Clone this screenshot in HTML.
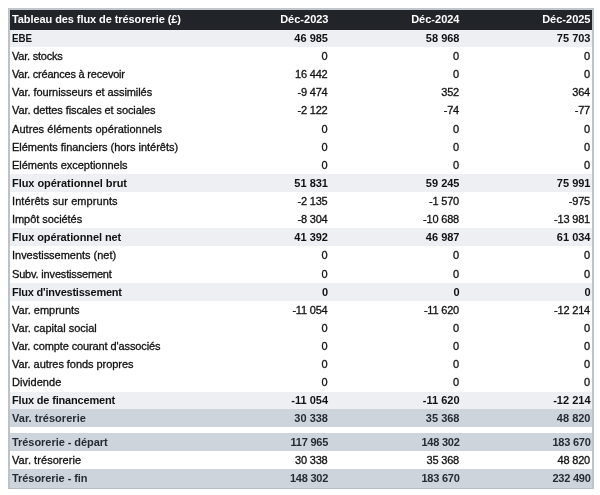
<!DOCTYPE html>
<html><head><meta charset="utf-8"><title>Tableau des flux de trésorerie</title>
<style>
html,body{margin:0;padding:0;background:#fff;}
body{width:600px;height:495px;overflow:hidden;position:relative;font-family:"Liberation Sans","DejaVu Sans",sans-serif;font-size:11px;color:#111;}
#t{position:absolute;left:8px;top:8px;width:582px;height:478px;border:2px solid #bcc2cb;border-top-color:#c1c5cc;border-bottom:1px solid #b6bdc4;box-sizing:content-box;background:#fff;}
.r{position:absolute;left:0;right:0;height:18px;line-height:18px;white-space:nowrap;}
.r span{position:absolute;top:0;letter-spacing:-0.2px;-webkit-text-stroke:0.3px currentColor;}
.r .l{left:2px;letter-spacing:0;}
.r .c1{right:264.5px;}
.r .c2{right:133px;}
.r .c3{right:2px;}
.h{top:0;height:20px;line-height:19px;background:#212429;color:#fff;font-weight:bold;}
.h .c1{right:263.5px}.h .c2{right:132.5px}.h .c3{right:1.5px}
.b{background:#edeff3;font-weight:bold;}
.d{background:#ced4dc;font-weight:bold;color:#262b36;}
.b span,.d span,.h span{letter-spacing:0;-webkit-text-stroke:0}
.b .c1,.d .c1{right:264px}.b .c2,.d .c2{right:132.5px}.b .c3,.d .c3{right:1.5px}
.w span{letter-spacing:-0.25px}.w .l{letter-spacing:0}
</style></head><body>
<div id="t">
<div class="r h"><span class="l" style="letter-spacing:-0.079px">Tableau des flux de trésorerie (£)</span><span class="c1">Déc-2023</span><span class="c2">Déc-2024</span><span class="c3">Déc-2025</span></div>
<div class="r b" style="top:20px;height:17px;line-height:16px"><span class="l" style="transform:scaleX(0.885);transform-origin:0 0">EBE</span><span class="c1">46 985</span><span class="c2">58 968</span><span class="c3">75 703</span></div>
<div class="r" style="top:37px;height:18px;line-height:18px"><span class="l" style="letter-spacing:-0.228px">Var. stocks</span><span class="c1">0</span><span class="c2">0</span><span class="c3">0</span></div>
<div class="r" style="top:55px;height:18px;line-height:18px"><span class="l" style="letter-spacing:-0.208px">Var. créances à recevoir</span><span class="c1">16 442</span><span class="c2">0</span><span class="c3">0</span></div>
<div class="r" style="top:73px;height:18px;line-height:18px"><span class="l" style="letter-spacing:-0.072px">Var. fournisseurs et assimilés</span><span class="c1">-9 474</span><span class="c2">352</span><span class="c3">364</span></div>
<div class="r" style="top:91px;height:19px;line-height:18px"><span class="l" style="letter-spacing:-0.096px">Var. dettes fiscales et sociales</span><span class="c1">-2 122</span><span class="c2">-74</span><span class="c3">-77</span></div>
<div class="r" style="top:110px;height:18px;line-height:18px"><span class="l" style="letter-spacing:0.054px">Autres éléments opérationnels</span><span class="c1">0</span><span class="c2">0</span><span class="c3">0</span></div>
<div class="r" style="top:128px;height:18px;line-height:18px"><span class="l" style="letter-spacing:-0.025px">Eléments financiers (hors intérêts)</span><span class="c1">0</span><span class="c2">0</span><span class="c3">0</span></div>
<div class="r" style="top:146px;height:18px;line-height:18px"><span class="l" style="letter-spacing:-0.027px">Eléments exceptionnels</span><span class="c1">0</span><span class="c2">0</span><span class="c3">0</span></div>
<div class="r b" style="top:164px;height:18px;line-height:18px"><span class="l" style="letter-spacing:-0.053px">Flux opérationnel brut</span><span class="c1">51 831</span><span class="c2">59 245</span><span class="c3">75 991</span></div>
<div class="r" style="top:182px;height:18px;line-height:18px"><span class="l" style="letter-spacing:0.082px">Intérêts sur emprunts</span><span class="c1">-2 135</span><span class="c2">-1 570</span><span class="c3">-975</span></div>
<div class="r" style="top:200px;height:18px;line-height:18px"><span class="l" style="letter-spacing:-0.061px">Impôt sociétés</span><span class="c1">-8 304</span><span class="c2">-10 688</span><span class="c3">-13 981</span></div>
<div class="r b" style="top:218px;height:18px;line-height:18px"><span class="l" style="letter-spacing:-0.103px">Flux opérationnel net</span><span class="c1">41 392</span><span class="c2">46 987</span><span class="c3">61 034</span></div>
<div class="r" style="top:236px;height:19px;line-height:18px"><span class="l" style="letter-spacing:-0.023px">Investissements (net)</span><span class="c1">0</span><span class="c2">0</span><span class="c3">0</span></div>
<div class="r" style="top:255px;height:18px;line-height:18px"><span class="l" style="letter-spacing:-0.172px">Subv. investissement</span><span class="c1">0</span><span class="c2">0</span><span class="c3">0</span></div>
<div class="r b" style="top:273px;height:18px;line-height:18px"><span class="l" style="letter-spacing:-0.225px">Flux d'investissement</span><span class="c1">0</span><span class="c2">0</span><span class="c3">0</span></div>
<div class="r" style="top:291px;height:18px;line-height:18px"><span class="l" style="letter-spacing:-0.006px">Var. emprunts</span><span class="c1">-11 054</span><span class="c2">-11 620</span><span class="c3">-12 214</span></div>
<div class="r" style="top:309px;height:18px;line-height:18px"><span class="l" style="letter-spacing:-0.002px">Var. capital social</span><span class="c1">0</span><span class="c2">0</span><span class="c3">0</span></div>
<div class="r" style="top:327px;height:18px;line-height:18px"><span class="l" style="letter-spacing:-0.109px">Var. compte courant d'associés</span><span class="c1">0</span><span class="c2">0</span><span class="c3">0</span></div>
<div class="r" style="top:345px;height:18px;line-height:18px"><span class="l" style="letter-spacing:-0.049px">Var. autres fonds propres</span><span class="c1">0</span><span class="c2">0</span><span class="c3">0</span></div>
<div class="r" style="top:363px;height:19px;line-height:18px"><span class="l" style="letter-spacing:0.042px">Dividende</span><span class="c1">0</span><span class="c2">0</span><span class="c3">0</span></div>
<div class="r b" style="top:382px;height:17px;line-height:16px"><span class="l" style="letter-spacing:-0.171px">Flux de financement</span><span class="c1">-11 054</span><span class="c2">-11 620</span><span class="c3">-12 214</span></div>
<div class="r d" style="top:399px;height:18px;line-height:18px"><span class="l" style="letter-spacing:0.033px">Var. trésorerie</span><span class="c1">30 338</span><span class="c2">35 368</span><span class="c3">48 820</span></div>
<div class="r d w" style="top:423px;height:18px;line-height:18px"><span class="l" style="letter-spacing:-0.049px">Trésorerie - départ</span><span class="c1">117 965</span><span class="c2">148 302</span><span class="c3">183 670</span></div>
<div class="r" style="top:441px;height:18px;line-height:18px"><span class="l" style="letter-spacing:0.061px">Var. trésorerie</span><span class="c1">30 338</span><span class="c2">35 368</span><span class="c3">48 820</span></div>
<div class="r d w" style="top:459px;height:19px;line-height:18px"><span class="l" style="letter-spacing:-0.056px">Trésorerie - fin</span><span class="c1">148 302</span><span class="c2">183 670</span><span class="c3">232 490</span></div>
</div>
</body></html>
